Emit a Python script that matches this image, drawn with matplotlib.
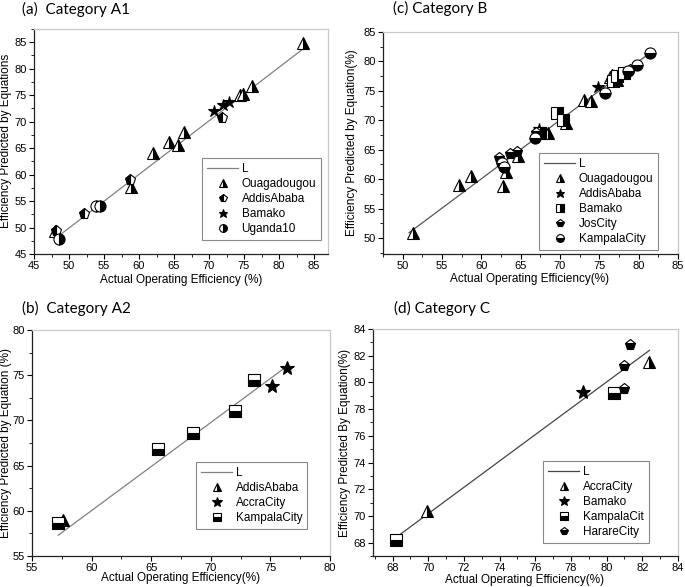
import matplotlib
matplotlib.use("Agg")
import matplotlib.pyplot as plt
from matplotlib.ticker import MultipleLocator, AutoMinorLocator

W, H = 685, 587

# ---------------- data ----------------
# Panel (a) Category A1
a_L_x = [48.6, 83.6]
a_L_y = [48.5, 83.9]
a_oua_x = [48.0, 58.8, 62.0, 64.3, 65.6, 66.4, 74.4, 74.9, 76.1, 83.4]
a_oua_y = [49.4, 57.7, 64.0, 66.1, 65.6, 68.1, 75.0, 75.2, 76.8, 84.8]
a_add_x = [48.2, 52.2, 58.7, 71.9]
a_add_y = [49.3, 52.6, 59.0, 70.6]
a_bam_x = [70.7, 72.0, 72.8]
a_bam_y = [72.0, 73.1, 73.7]
a_uga_x = [53.9, 54.4, 48.5]
a_uga_y = [54.0, 54.0, 47.9]

# Panel (c) Category B
c_L_x = [50.8, 81.4]
c_L_y = [50.9, 81.4]
c_oua_x = [51.3, 57.2, 58.7, 62.8, 63.1, 64.7, 68.5, 70.8, 73.0, 74.0, 76.3, 76.6, 77.2]
c_oua_y = [50.8, 59.1, 60.5, 58.9, 61.3, 63.9, 67.8, 69.5, 73.5, 73.2, 77.3, 77.7, 76.9]
c_add_x = [67.3, 74.8]
c_add_y = [68.6, 75.7]
c_bam_x = [67.4, 69.6, 70.4, 76.8, 77.2, 78.1]
c_bam_y = [67.8, 71.2, 70.1, 76.6, 77.5, 78.0]
c_jos_x = [62.3, 63.6, 64.5, 67.0, 78.9]
c_jos_y = [63.6, 64.2, 64.7, 67.8, 78.6]
c_kam_x = [62.6, 62.9, 66.8, 75.7, 78.7, 79.8, 81.5]
c_kam_y = [62.7, 62.0, 67.0, 74.6, 78.3, 79.4, 81.4]

# Panel (b) Category A2
b_L_x = [57.2, 76.4]
b_L_y = [57.3, 76.0]
b_add_x = [57.6]
b_add_y = [59.0]
b_acc_x = [75.1, 76.4]
b_acc_y = [73.8, 75.8]
b_kam_x = [57.2, 65.6, 68.5, 72.0, 73.6]
b_kam_y = [58.6, 66.8, 68.6, 71.0, 74.5]

# Panel (d) Category C
d_L_x = [68.2, 82.4]
d_L_y = [68.4, 82.4]
d_acc_x = [69.9, 82.4]
d_acc_y = [70.4, 81.5]
d_bam_x = [78.7]
d_bam_y = [79.3]
d_kam_x = [68.2, 80.4]
d_kam_y = [68.2, 79.2]
d_har_x = [81.3, 81.0, 81.0]
d_har_y = [82.8, 81.2, 79.5]

# ---------------- figure ----------------
plt.rcParams['font.family'] = ['Liberation Sans', 'DejaVu Sans']
fig = plt.figure(figsize=(W / 100, H / 100), dpi=100)


def px_axes(l, t, r, b):
    return fig.add_axes([l / W, 1 - b / H, (r - l) / W, (b - t) / H])


def style(ax, xlim, ylim, step):
    ax.set_xlim(*xlim)
    ax.set_ylim(*ylim)
    ax.xaxis.set_major_locator(MultipleLocator(step))
    ax.yaxis.set_major_locator(MultipleLocator(step))
    ax.xaxis.set_minor_locator(AutoMinorLocator(2))
    ax.yaxis.set_minor_locator(AutoMinorLocator(2))
    ax.tick_params(which='major', direction='out', length=3.5, width=0.8,
                   labelsize=8, pad=1.5, top=False, right=False)
    ax.tick_params(which='minor', direction='out', length=2, width=0.6,
                   top=False, right=False)
    for s in ['left', 'bottom']:
        ax.spines[s].set_color('#222222')
        ax.spines[s].set_linewidth(0.9)
    for s in ['top', 'right']:
        ax.spines[s].set_color('#c8c8c8')
        ax.spines[s].set_linewidth(0.9)


def pts(ax, x, y, marker, fs, label, ms=8):
    ax.plot(x, y, linestyle='none', marker=marker, fillstyle=fs,
            markerfacecolor='black', markerfacecoloralt='white',
            markeredgecolor='black', markeredgewidth=0.8, markersize=ms,
            label=label, zorder=3)


def legend(ax, x, y, fontsize=8.5):
    leg = ax.legend(loc='upper left', bbox_to_anchor=(x / W, 1 - y / H),
                    bbox_transform=fig.transFigure, fancybox=False,
                    edgecolor='#888888', framealpha=1, fontsize=fontsize,
                    handlelength=2.6, labelspacing=0.25, borderpad=0.45,
                    handletextpad=0.3, markerscale=0.7, borderaxespad=0)
    leg.get_frame().set_linewidth(0.8)
    return leg


def ftext(x, y, s, **kw):
    fig.text(x / W, 1 - y / H, s, **kw)


title_kw = dict(family=['Lato', 'DejaVu Sans'], fontsize=11, va='center', ha='left')
lab_kw = dict(fontsize=8.5, va='center', ha='center')

# (a)
ax = px_axes(34, 29, 328, 254)
style(ax, (45, 87), (45, 87.5), 5)
ax.plot(a_L_x, a_L_y, color='#808080', lw=0.9, label='L', zorder=2)
pts(ax, a_oua_x, a_oua_y, '^', 'right', 'Ouagadougou')
pts(ax, a_add_x, a_add_y, 'p', 'left', 'AddisAbaba')
pts(ax, a_bam_x, a_bam_y, '*', 'full', 'Bamako', ms=9)
pts(ax, a_uga_x, a_uga_y, 'o', 'right', 'Uganda10')
legend(ax, 202, 158)
ftext(22, 9, '(a)  Category A1', **title_kw)
ftext(181, 280, 'Actual Operating Efficiency (%)', **lab_kw)
ftext(6, 141, 'Efficiency Predicted by Equations', rotation=90, **lab_kw)

# (c)
ax = px_axes(383, 32, 678, 254)
style(ax, (47.5, 85), (47.3, 85), 5)
ax.plot(c_L_x, c_L_y, color='#555555', lw=0.9, label='L', zorder=2)
pts(ax, c_oua_x, c_oua_y, '^', 'right', 'Ouagadougou')
pts(ax, c_add_x, c_add_y, '*', 'full', 'AddisAbaba', ms=9)
pts(ax, c_bam_x, c_bam_y, 's', 'right', 'Bamako')
pts(ax, c_jos_x, c_jos_y, 'p', 'bottom', 'JosCity')
pts(ax, c_kam_x, c_kam_y, 'o', 'bottom', 'KampalaCity')
legend(ax, 539, 153)
ftext(393, 8, '(c) Category B', **title_kw)
ftext(530, 279, 'Actual Operating Efficiency(%)', **lab_kw)
ftext(352, 143, 'Efficiency Predicted by Equation(%)', rotation=90, **lab_kw)

# (b)
ax = px_axes(32, 330, 330, 556)
style(ax, (55, 80), (55, 80), 5)
ax.plot(b_L_x, b_L_y, color='#808080', lw=0.9, label='L', zorder=2)
pts(ax, b_add_x, b_add_y, '^', 'right', 'AddisAbaba')
pts(ax, b_acc_x, b_acc_y, '*', 'full', 'AccraCity', ms=10)
pts(ax, b_kam_x, b_kam_y, 's', 'bottom', 'KampalaCity')
legend(ax, 196, 462)
ftext(22, 308, '(b)  Category A2', **title_kw)
ftext(181, 578, 'Actual Operating Efficiency(%)', **lab_kw)
ftext(6, 443, 'Efficiency Predicted by Equation (%)', rotation=90, **lab_kw)

# (d)
ax = px_axes(373, 329, 678, 556)
style(ax, (66.9, 84), (67.0, 84), 2)
ax.plot(d_L_x, d_L_y, color='#444444', lw=0.9, label='L', zorder=2)
pts(ax, d_acc_x, d_acc_y, '^', 'right', 'AccraCity')
pts(ax, d_bam_x, d_bam_y, '*', 'full', 'Bamako', ms=10)
pts(ax, d_kam_x, d_kam_y, 's', 'bottom', 'KampalaCit')
pts(ax, d_har_x, d_har_y, 'p', 'bottom', 'HarareCity')
legend(ax, 543, 461)
ftext(394, 308, '(d) Category C', **title_kw)
ftext(525, 580, 'Actual Operating Efficiency(%)', **lab_kw)
ftext(345, 443, 'Efficiency Predicted By Equation(%)', rotation=90, **lab_kw)

fig.savefig('out.png', dpi=100)
